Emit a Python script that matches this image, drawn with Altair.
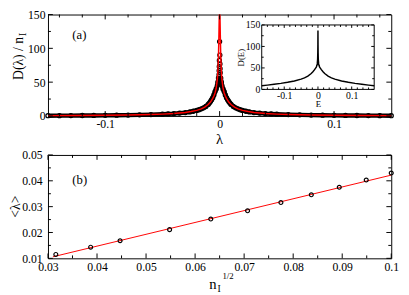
import altair as alt
import pandas as pd

# ---------------- data: panel (a) ----------------
lam_pts = [-0.150, -0.140, -0.130, -0.120, -0.110, -0.100, -0.090, -0.080, -0.070, -0.060,
           -0.050, -0.045, -0.040, -0.035, -0.030, -0.026, -0.023, -0.020, -0.018, -0.016,
           -0.014, -0.012, -0.010, -0.009, -0.008, -0.007, -0.006, -0.005, -0.004, -0.003,
           -0.002, -0.0015, -0.001,
           -0.0005, -0.0004, -0.0003, -0.0002, 0.0, 0.0002, 0.0003, 0.0004, 0.0005,
           0.001, 0.0015, 0.002, 0.003, 0.004, 0.005, 0.006, 0.007, 0.008, 0.009,
           0.010, 0.012, 0.014, 0.016, 0.018, 0.020, 0.023, 0.026, 0.030, 0.035,
           0.040, 0.045, 0.050, 0.060, 0.070, 0.080, 0.090, 0.100, 0.110, 0.120,
           0.130, 0.140, 0.150]
d_pts = [0.4, 0.47, 0.55, 0.65, 0.75, 0.9, 1.1, 1.3, 1.6, 2.0,
         2.6, 3.0, 3.5, 4.2, 5.0, 6.0, 7.0, 8.2, 9.2, 10.5,
         12.0, 14.0, 17.0, 19.0, 21.5, 24.0, 27.0, 31.0, 36.0, 40.0,
         45.0, 50.0, 56.0,
         61.0, 67.0, 73.0, 82.0, 110.0, 90.0, 77.0, 70.0, 64.0,
         56.0, 50.0, 45.0, 40.0, 36.0, 31.0, 27.0, 24.0, 21.5, 19.0,
         17.0, 14.0, 12.0, 10.5, 9.2, 8.2, 7.0, 6.0, 5.0, 4.2,
         3.5, 3.0, 2.6, 2.0, 1.6, 1.3, 1.1, 0.9, 0.75, 0.65,
         0.55, 0.47, 0.4]

lam_fit = [-0.150, -0.125, -0.100, -0.080, -0.060, -0.050, -0.040, -0.030, -0.025, -0.020,
           -0.016, -0.013, -0.010, -0.008, -0.006, -0.005, -0.004, -0.003, -0.002, -0.0015,
           -0.001, -0.0006, -0.0003, 0.0, 0.0003, 0.0006, 0.001, 0.0015, 0.002, 0.003,
           0.004, 0.005, 0.006, 0.008, 0.010, 0.013, 0.016, 0.020, 0.025, 0.030,
           0.040, 0.050, 0.060, 0.080, 0.100, 0.125, 0.150]
d_fit = [0.5, 0.7, 1.0, 1.4, 2.1, 2.7, 3.6, 5.2, 6.5, 8.2,
         10.5, 13.0, 17.0, 20.5, 26.0, 29.5, 34.0, 41.0, 54.0, 66.0,
         88.0, 120.0, 148.0, 150.0, 148.0, 120.0, 88.0, 66.0, 54.0, 41.0,
         34.0, 29.5, 26.0, 20.5, 17.0, 13.0, 10.5, 8.2, 6.5, 5.2,
         3.6, 2.7, 2.1, 1.4, 1.0, 0.7, 0.5]

# inset D(E)
e_vals = [-0.1667, -0.15, -0.13, -0.11, -0.09, -0.07, -0.05, -0.04, -0.03, -0.02,
          -0.015, -0.01, -0.007, -0.005, -0.003, -0.002, -0.001, -0.0005, -0.0002, 0.0,
          0.0002, 0.0005, 0.001, 0.002, 0.003, 0.005, 0.007, 0.01, 0.015, 0.02,
          0.03, 0.04, 0.05, 0.07, 0.09, 0.11, 0.13, 0.15, 0.1667]
de_vals = [8.5, 10.0, 12.0, 14.0, 16.5, 19.5, 24.0, 27.0, 31.0, 37.0,
           41.0, 46.0, 49.5, 52.0, 56.0, 60.0, 70.0, 85.0, 105.0, 137.0,
           105.0, 85.0, 70.0, 60.0, 56.0, 52.0, 49.5, 46.0, 41.0, 37.0,
           31.0, 27.0, 24.0, 19.5, 16.5, 14.0, 12.0, 10.0, 8.5]

# ---------------- data: panel (b) ----------------
sqrt_n = [0.0316, 0.0387, 0.0447, 0.0548, 0.0632, 0.0707, 0.0775, 0.0837, 0.0894, 0.0949, 0.1]
mean_lam = [0.0115, 0.0143, 0.0168, 0.0211, 0.0252, 0.0284, 0.0316, 0.0346, 0.0375, 0.0403, 0.0430]
fitb_x = [0.031, 0.1]
fitb_y = [0.0106, 0.0422]

# tick values
a_x_major = [-0.1, 0.0, 0.1]
a_x_minor = [-0.14, -0.12, -0.08, -0.06, -0.04, -0.02, 0.02, 0.04, 0.06, 0.08, 0.12, 0.14]
a_y_major = [0, 50, 100, 150]
a_y_minor = [25, 75, 125]
in_x_major = [-0.1, 0.0, 0.1]
in_x_minor = [-0.15, -0.1333, -0.1167, -0.0833, -0.0667, -0.05, -0.0333, -0.0167,
              0.0167, 0.0333, 0.05, 0.0667, 0.0833, 0.1167, 0.1333, 0.15]
in_y_major = [0, 50, 100, 150]
in_y_minor = [25, 75, 125]
b_x_major = [0.03, 0.04, 0.05, 0.06, 0.07, 0.08, 0.09, 0.1]
b_x_minor = [0.035, 0.045, 0.055, 0.065, 0.075, 0.085, 0.095]
b_y_major = [0.01, 0.02, 0.03, 0.04, 0.05]
b_y_minor = [0.015, 0.025, 0.035, 0.045]

texts_a = ["(a)", "D(λ) / n", "I", "λ"]
texts_b = ["(b)", "<λ>", "n", "I", "1/2"]
inset_titles = ["E", "D(E)"]

FONT = "Liberation Serif"
W, H1, H2 = 352, 104, 106
MINUS = "replace(datum.label, '\u2212', '-')"


def ticks(xs, ys, axx, axy, xmaj, xmin, ymaj, ymin, x0, x1, y0, y1, lmaj, lmin):
    out = []
    for vals, L in ((xmaj, lmaj), (xmin, lmin)):
        src = alt.Chart(pd.DataFrame({"v": vals})).mark_rule(color="black", strokeWidth=1)
        ex = alt.X("v:Q", scale=xs, axis=axx)
        out.append(src.encode(x=ex, y=alt.value(y1), y2=alt.value(y1 - L)))
        out.append(src.encode(x=ex, y=alt.value(y0), y2=alt.value(y0 + L)))
    for vals, L in ((ymaj, lmaj), (ymin, lmin)):
        src = alt.Chart(pd.DataFrame({"v": vals})).mark_rule(color="black", strokeWidth=1)
        ey = alt.Y("v:Q", scale=ys, axis=axy)
        out.append(src.encode(y=ey, x=alt.value(x0), x2=alt.value(x0 + L)))
        out.append(src.encode(y=ey, x=alt.value(x1), x2=alt.value(x1 - L)))
    return out


def label(txt, x, y, size, align="left", baseline="middle", angle=0):
    kw = dict(font=FONT, fontSize=size, align=align, baseline=baseline, color="black")
    if angle:
        kw["angle"] = angle
    return alt.Chart(pd.DataFrame({"t": [txt]})).mark_text(**kw).encode(
        text="t:N", x=alt.value(x), y=alt.value(y))


def axis(**kw):
    base = dict(ticks=False, domain=False, grid=False, labelFont=FONT, labelColor="black",
                labelFontSize=12, titleFont=FONT, titleColor="black", titleFontWeight="normal",
                labelOverlap=False, labelFlush=False, zindex=1)
    base.update(kw)
    return alt.Axis(**base)


# ---------------- panel (a) main ----------------
xs_a = alt.Scale(domain=[-0.15, 0.15], nice=False, zero=False)
ys_a = alt.Scale(domain=[0, 150], nice=False)
pts_a = pd.DataFrame({"lam": lam_pts, "d": d_pts})
fit_a = pd.DataFrame({"lam": lam_fit, "d": d_fit})

ax_xa = axis(orient="bottom", values=a_x_major, format=".1~f", labelExpr=MINUS,
             title=None, labelPadding=3)
ax_ya = axis(orient="left", values=a_y_major, format="d", title=None, labelPadding=3)

band = alt.Chart(pts_a).transform_filter("datum.d <= 60").mark_line(
    color="black", strokeWidth=4.5).encode(
    x=alt.X("lam:Q", scale=xs_a, axis=ax_xa), y=alt.Y("d:Q", scale=ys_a, axis=ax_ya))
circ_a = alt.Chart(pts_a).mark_point(shape="circle", size=18, filled=False, color="black",
                                     strokeWidth=1.2, opacity=1).encode(
    x=alt.X("lam:Q", scale=xs_a, axis=ax_xa), y=alt.Y("d:Q", scale=ys_a, axis=ax_ya))
red_a = alt.Chart(fit_a).mark_line(color="#ff0000", strokeWidth=1.5).encode(
    x=alt.X("lam:Q", scale=xs_a, axis=ax_xa), y=alt.Y("d:Q", scale=ys_a, axis=ax_ya))

main_a = alt.layer(
    band, circ_a, red_a,
    *ticks(xs_a, ys_a, ax_xa, ax_ya, a_x_major, a_x_minor, a_y_major, a_y_minor, 0, W, 0, H1, 5, 3),
    label(texts_a[0], 25, 21, 13),
    label(texts_a[1], -26, 23, 14, align="right", baseline="alphabetic", angle=270),
    label(texts_a[2], -23, 22, 10, align="left", baseline="alphabetic", angle=270),
    label(texts_a[3], W / 2, H1 + 29, 15, align="center", baseline="alphabetic"),
)

# ---------------- inset ----------------
ix0, ix1 = 0.6227 * W, 0.9503 * W
iy0, iy1 = 0.1028 * H1, 0.7383 * H1
xs_i = alt.Scale(domain=[-0.1667, 0.1667], range=[ix0, ix1], nice=False, zero=False)
ys_i = alt.Scale(domain=[0, 150], range=[iy1, iy0], nice=False)

ax_xi = axis(orient="bottom", offset=iy1 - H1, values=in_x_major, format=".1~f",
             labelExpr=MINUS, labelFontSize=10, labelPadding=1, title=inset_titles[0],
             titleFontSize=9, titlePadding=0)
ax_yi = axis(orient="left", offset=-ix0, values=in_y_major, format="d",
             labelFontSize=10, labelPadding=2, title=inset_titles[1],
             titleFontSize=9, titlePadding=0)
frame_i = alt.Chart(pd.DataFrame({"x0": [-0.1667], "x1": [0.1667], "y0": [0], "y1": [150]})).mark_rect(
    fill="white", stroke="black", strokeWidth=1).encode(
    x=alt.X("x0:Q", scale=xs_i, axis=ax_xi), x2="x1:Q",
    y=alt.Y("y0:Q", scale=ys_i, axis=ax_yi), y2="y1:Q")
curve_i = alt.Chart(pd.DataFrame({"e": e_vals, "de": de_vals})).mark_line(
    color="black", strokeWidth=1.5).encode(
    x=alt.X("e:Q", scale=xs_i, axis=ax_xi), y=alt.Y("de:Q", scale=ys_i, axis=ax_yi))

inset = alt.layer(
    frame_i, curve_i,
    *ticks(xs_i, ys_i, ax_xi, ax_yi, in_x_major, in_x_minor, in_y_major, in_y_minor,
           ix0, ix1, iy0, iy1, 3, 2),
)

panel_a = alt.layer(main_a, inset).resolve_scale(
    x="independent", y="independent").properties(width=W, height=H1)

# ---------------- panel (b) ----------------
xs_b = alt.Scale(domain=[0.03, 0.1], nice=False, zero=False)
ys_b = alt.Scale(domain=[0.01, 0.05], nice=False, zero=False)
ax_xb = axis(orient="bottom", values=b_x_major, format=".2~f", title=None, labelPadding=3)
ax_yb = axis(orient="left", values=b_y_major, format=".2~f", title=None, labelPadding=6)

red_b = alt.Chart(pd.DataFrame({"x": fitb_x, "y": fitb_y})).mark_line(
    color="#ff0000", strokeWidth=1).encode(
    x=alt.X("x:Q", scale=xs_b, axis=ax_xb), y=alt.Y("y:Q", scale=ys_b, axis=ax_yb))
circ_b = alt.Chart(pd.DataFrame({"x": sqrt_n, "y": mean_lam})).mark_point(
    shape="circle", size=16, filled=False, color="black", strokeWidth=1.2, opacity=1).encode(
    x=alt.X("x:Q", scale=xs_b, axis=ax_xb), y=alt.Y("y:Q", scale=ys_b, axis=ax_yb))

nx = 0.47 * W
panel_b = alt.layer(
    red_b, circ_b,
    *ticks(xs_b, ys_b, ax_xb, ax_yb, b_x_major, b_x_minor, b_y_major, b_y_minor, 0, W, 0, H2, 5, 3),
    label(texts_b[0], 25, 26, 13),
    label(texts_b[1], -29, H2 / 2, 14, align="center", baseline="alphabetic", angle=270),
    label(texts_b[2], nx, H2 + 31, 15, baseline="alphabetic"),
    label(texts_b[3], nx + 8.3, H2 + 35, 10, baseline="alphabetic"),
    label(texts_b[4], nx + 13.5, H2 + 21, 9, baseline="alphabetic"),
).properties(width=W, height=H2)

chart = alt.vconcat(panel_a, panel_b, spacing=0).properties(
    padding={"left": 0, "top": -4, "right": 0, "bottom": 0}
).configure(font=FONT).configure_view(stroke="black", strokeWidth=1)

chart.save("out.html", embed_options={"renderer": "svg", "actions": False})
